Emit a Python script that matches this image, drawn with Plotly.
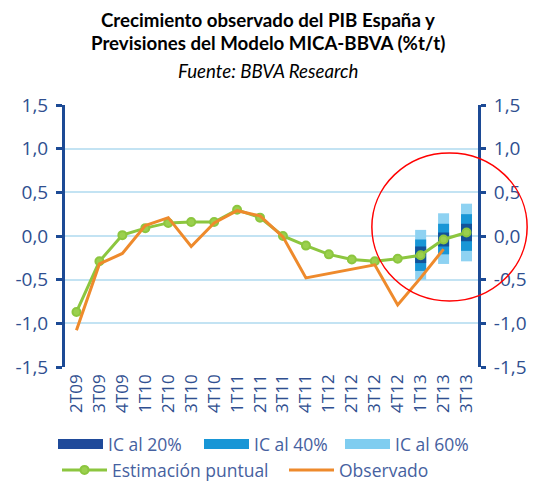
import plotly.graph_objects as go

# Quarter labels
quarters = ["2T09", "3T09", "4T09", "1T10", "2T10", "3T10", "4T10", "1T11", "2T11",
            "3T11", "4T11", "1T12", "2T12", "3T12", "4T12", "1T13", "2T13", "3T13"]

# Point estimate of the MICA-BBVA model (% q/q)
estimacion = [-0.87, -0.29, 0.01, 0.09, 0.15, 0.16, 0.16, 0.30, 0.21,
              0.00, -0.11, -0.21, -0.27, -0.29, -0.26, -0.22, -0.04, 0.04]

# Observed GDP growth (% q/q)
observado = [-1.08, -0.32, -0.20, 0.12, 0.21, -0.12, 0.15, 0.29, 0.23,
             -0.01, -0.48, -0.43, -0.38, -0.33, -0.79, -0.48, -0.15, None]

# Confidence bands for the forecast quarters
ic_quarters = ["1T13", "2T13", "3T13"]
ic20_low = [-0.31, -0.12, -0.06]
ic20_high = [-0.12, 0.04, 0.14]
ic40_low = [-0.40, -0.21, -0.17]
ic40_high = [-0.04, 0.14, 0.25]
ic60_low = [-0.50, -0.32, -0.29]
ic60_high = [0.07, 0.26, 0.37]

y_ticks = [-1.5, -1.0, -0.5, 0.0, 0.5, 1.0, 1.5]
y_ticktext = ["-1,5", "-1,0", "-0,5", "0,0", "0,5", "1,0", "1,5"]

DARK_BLUE = "#1C4A95"
TEXT_BLUE = "#2F4F90"
LEGEND_TEXT = "#4661A0"
GRID_BLUE = "#C3E3F3"
GREEN = "#8CC63F"
ORANGE = "#EE8A2C"
C20 = "#12529A"
C40 = "#1896D6"
C60 = "#8ED2F2"
FONT = "Open Sans"

fig = go.Figure()

bands = [
    ("IC al 60%", ic60_low, ic60_high, C60),
    ("IC al 40%", ic40_low, ic40_high, C40),
    ("IC al 20%", ic20_low, ic20_high, C20),
]
for name, lo, hi, col in bands:
    fig.add_trace(go.Bar(
        x=ic_quarters, y=[h - l for l, h in zip(lo, hi)], base=lo,
        marker=dict(color=col, line=dict(width=0)), width=0.48,
        showlegend=False, hoverinfo="skip",
    ))

fig.add_trace(go.Scatter(
    x=quarters, y=estimacion, mode="lines+markers", name="Estimación puntual",
    line=dict(color=GREEN, width=3), legend="legend4",
    marker=dict(size=8, color="#9BD04E", line=dict(color=GREEN, width=2)),
))
fig.add_trace(go.Scatter(
    x=quarters, y=observado, mode="lines", name="Observado",
    line=dict(color=ORANGE, width=3), legend="legend5",
))

# Legend swatches for the confidence bands
for name, col, lg in [("IC al 20%", "#1F4A9A", "legend"),
                      ("IC al 40%", C40, "legend2"),
                      ("IC al 60%", "#7FCDF0", "legend3")]:
    fig.add_trace(go.Scatter(
        x=[None], y=[None], mode="lines", name=name,
        line=dict(color=col, width=10), legend=lg,
    ))

# An empty trace so the secondary y axis is drawn
fig.add_trace(go.Scatter(x=[None], y=[None], yaxis="y2", showlegend=False, hoverinfo="skip"))


def legend_box(x_px, y_px):
    return dict(
        orientation="h", xref="container", yref="container",
        x=x_px / 536, xanchor="left", y=1 - y_px / 481, yanchor="middle",
        font=dict(size=17.5, color=LEGEND_TEXT), itemwidth=45,
        bgcolor="rgba(0,0,0,0)",
    )


fig.update_layout(
    width=536, height=481,
    margin=dict(l=65, r=58, t=105, b=114, autoexpand=False),
    paper_bgcolor="white", plot_bgcolor="white",
    barmode="overlay",
    font=dict(family=FONT, color=TEXT_BLUE),
    xaxis=dict(
        type="category", categoryorder="array", categoryarray=quarters,
        range=[-0.5, 17.5], showgrid=False, showline=False, ticks="",
        tickangle=-90, tickfont=dict(size=17, color=TEXT_BLUE),
        ticklabelstandoff=3,
    ),
    xaxis2=dict(
        overlaying="x", anchor="free", position=0.5, range=[-0.5, 17.5],
        showline=True, linecolor=DARK_BLUE, linewidth=2.5,
        tickvals=[i + 0.5 for i in range(len(quarters) - 1)],
        ticks="outside", ticklen=5, tickwidth=2, tickcolor=DARK_BLUE,
        showticklabels=False, showgrid=False, zeroline=False,
    ),
    yaxis=dict(
        range=[-1.5, 1.5], tickvals=y_ticks, ticktext=y_ticktext,
        showgrid=True, gridcolor=GRID_BLUE, gridwidth=1.5, zeroline=False,
        showline=True, linecolor=DARK_BLUE, linewidth=3,
        ticks="outside", ticklen=6, tickwidth=3, tickcolor=DARK_BLUE,
        tickfont=dict(size=19, color=TEXT_BLUE), ticklabelstandoff=4,
    ),
    yaxis2=dict(
        overlaying="y", side="right", range=[-1.5, 1.5],
        tickvals=y_ticks, ticktext=y_ticktext, showgrid=False, zeroline=False,
        showline=True, linecolor=DARK_BLUE, linewidth=3,
        ticks="outside", ticklen=5, tickwidth=3, tickcolor=DARK_BLUE,
        tickfont=dict(size=19, color=TEXT_BLUE), ticklabelstandoff=4,
    ),
    legend=legend_box(53, 444),
    legend2=legend_box(199, 444),
    legend3=legend_box(340, 444),
    legend4=legend_box(57, 470),
    legend5=legend_box(284, 470),
    showlegend=True,
)

# Title block
title_lines = [
    ("<b>Crecimiento observado del PIB España y</b>", 1.324),
    ("<b>Previsiones del Modelo MICA-BBVA (%t/t)</b>", 1.237),
    ("<i>Fuente: BBVA Research</i>", 1.130),
]
for txt, yy in title_lines:
    fig.add_annotation(
        text=txt, x=0.5, y=yy, xref="paper", yref="paper", xanchor="center",
        yanchor="middle", showarrow=False, xshift=-4,
        font=dict(family="Lato", size=18.7, color="black"),
    )

# Highlight circle around the forecast quarters
fig.add_shape(
    type="circle", xref="paper", yref="paper",
    x0=0.743, x1=1.119, y0=0.252, y1=0.817,
    line=dict(color="red", width=1.5),
)

fig.write_html("out.html")
